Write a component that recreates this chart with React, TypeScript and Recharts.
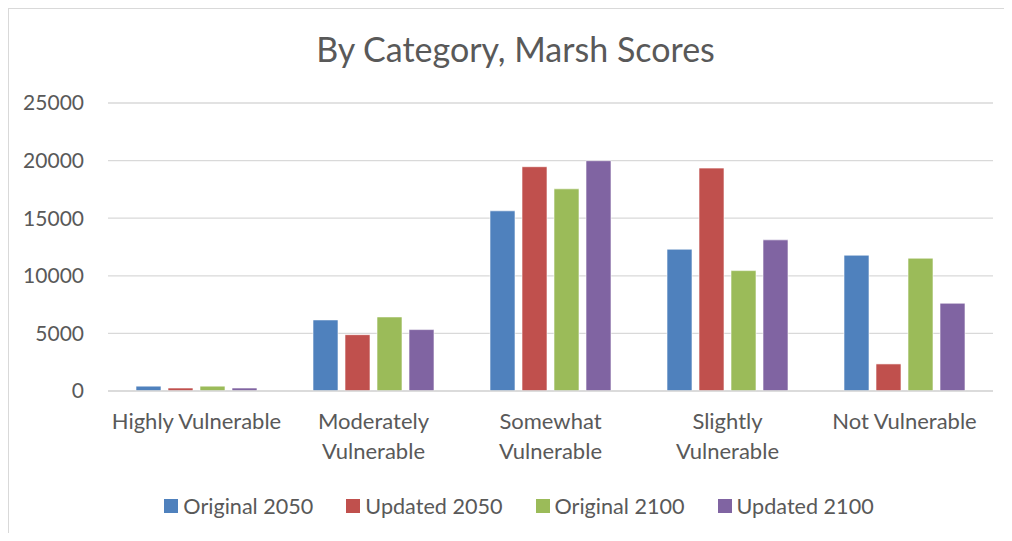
import { BarChart, Bar, XAxis, YAxis, CartesianGrid, Legend } from "recharts";

const categories = [
  "Highly Vulnerable",
  "Moderately Vulnerable",
  "Somewhat Vulnerable",
  "Slightly Vulnerable",
  "Not Vulnerable",
];
// how each category label wraps under the axis
const tickLines = [
  ["Highly Vulnerable"],
  ["Moderately", "Vulnerable"],
  ["Somewhat", "Vulnerable"],
  ["Slightly", "Vulnerable"],
  ["Not Vulnerable"],
];
const original2050 = [420, 6170, 15640, 12310, 11790];
const updated2050 = [260, 4890, 19470, 19350, 2350];
const original2100 = [420, 6430, 17550, 10450, 11530];
const updated2100 = [260, 5330, 19990, 13120, 7620];
const yTicks = [0, 5000, 10000, 15000, 20000, 25000];

const seriesNames = ["Original 2050", "Updated 2050", "Original 2100", "Updated 2100"];
const seriesColors = ["#4F81BD", "#C0504D", "#9BBB59", "#8064A2"];

const FONT = "Lato, 'DejaVu Sans', sans-serif";
const TEXT = "#595959";

const data = categories.map((name, i) => ({
  name,
  o2050: original2050[i],
  u2050: updated2050[i],
  o2100: original2100[i],
  u2100: updated2100[i],
}));
const keys = ["o2050", "u2050", "o2100", "u2100"];

function CategoryTick({ x, y, index }: any) {
  const lines = tickLines[index] ?? [];
  return (
    <text x={x} y={y} textAnchor="middle" fill={TEXT} fontSize={22} fontFamily={FONT}>
      {lines.map((l, i) => (
        <tspan key={i} x={x} dy={i === 0 ? 38 : 30}>
          {l}
        </tspan>
      ))}
    </text>
  );
}

function LegendBox() {
  return (
    <div
      style={{
        height: 30,
        display: "flex",
        justifyContent: "center",
        alignItems: "center",
        gap: 33,
        fontFamily: FONT,
        fontSize: 21.6,
        color: TEXT,
        paddingLeft: 36,
      }}
    >
      {seriesNames.map((n, i) => (
        <span key={n} style={{ display: "flex", alignItems: "center", gap: 5 }}>
          <span style={{ width: 14, height: 14, background: seriesColors[i], display: "inline-block" }} />
          {n}
        </span>
      ))}
    </div>
  );
}

export default function App() {
  return (
    <div
      style={{
        position: "relative",
        width: 1003,
        height: 540,
        borderTop: "1px solid #d9d9d9",
        borderLeft: "1px solid #d9d9d9",
        marginBottom: -16,
        background: "#fff",
      }}
    >
      <div
        style={{
          position: "absolute",
          top: 19,
          left: 5,
          width: 1003,
          textAlign: "center",
          fontFamily: FONT,
          fontSize: 34,
          lineHeight: "42px",
          color: TEXT,
        }}
      >
        By Category, Marsh Scores
      </div>
      <BarChart
        width={1003}
        height={532}
        data={data}
        margin={{ top: 94, right: 19, bottom: 20, left: 0 }}
        barSize={25}
        barGap={7}
      >
        <CartesianGrid vertical={false} stroke="#d9d9d9" strokeWidth={1.3} />
        <XAxis
          dataKey="name"
          height={100}
          tickLine={false}
          axisLine={{ stroke: "#d9d9d9", strokeWidth: 1.3 }}
          tickSize={0}
          tickMargin={0}
          interval={0}
          tick={<CategoryTick />}
        />
        <YAxis
          width={99}
          domain={[0, 25000]}
          ticks={yTicks}
          axisLine={false}
          tickLine={false}
          tickSize={0}
          tickMargin={24}
          tick={{ fill: TEXT, fontSize: 21, fontFamily: FONT }}
        />
        <Legend verticalAlign="bottom" content={<LegendBox />} />
        {keys.map((k, i) => (
          <Bar
            key={k}
            dataKey={k}
            name={seriesNames[i]}
            fill={seriesColors[i]}
            stroke="#fff"
            strokeWidth={0.6}
            isAnimationActive={false}
          />
        ))}
      </BarChart>
    </div>
  );
}
